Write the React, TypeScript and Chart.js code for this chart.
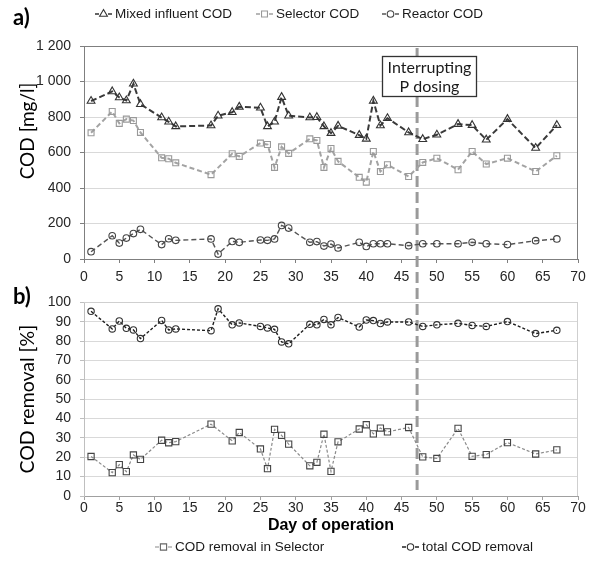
import React, { useEffect, useRef } from "react";
import { Chart, registerables } from "chart.js";
import { drawPoint } from "chart.js/helpers";

Chart.register(...registerables);

// ---------------- data ----------------
const days = [1, 4, 5, 6, 7, 8, 11, 12, 13, 18, 19, 21, 22, 25, 26, 27, 28, 29, 32, 33, 34, 35, 36, 39, 40, 41, 42, 43, 46, 48, 50, 53, 55, 57, 60, 64, 67];
const mixedInfluentCOD = [890, 944, 910, 893, 987, 872, 797, 773, 747, 752, 807, 827, 857, 852, 747, 773, 912, 807, 797, 799, 747, 709, 750, 698, 677, 891, 752, 793, 713, 675, 700, 760, 754, 672, 788, 625, 754];
const selectorCOD = [711, 831, 764, 788, 780, 713, 570, 565, 542, 475, null, 593, 578, 653, 645, 516, 632, 595, 677, 668, 516, 623, 550, 460, 433, 606, 493, 531, 465, 544, 568, 503, 606, 535, 568, 493, 582];
const reactorCOD = [41, 131, 90, 118, 143, 167, 81, 114, 105, 113, 28, 99, 94, 107, 105, 113, 189, 174, 94, 98, 73, 84, 62, 94, 71, 86, 86, 86, 75, 86, 86, 86, 94, 86, 81, 103, 113];
const codRemovalInSelector = [20.4, 12.1, 16.2, 12.6, 21.2, 18.9, 28.8, 27.5, 28.1, 37.1, null, 28.5, 32.8, 24.3, 14.1, 34.4, 31.3, 26.8, 15.6, 17.4, 31.9, 12.7, 28, 34.6, 36.8, 32.1, 35.1, 33.1, 35.4, 20.2, 19.4, 34.9, 20.5, 21.4, 27.6, 21.7, 23.8];
const totalCODRemoval = [95.4, 86.3, 90.4, 86.6, 85.8, 81.3, 90.7, 85.8, 86.3, 85.4, 96.7, 88.4, 89.4, 87.6, 86.8, 86.1, 79.6, 78.6, 88.7, 88.4, 91.2, 88.4, 92.2, 87.3, 90.9, 90.6, 89.1, 89.9, 89.9, 87.6, 88.4, 89.2, 88.1, 87.6, 90.1, 83.9, 85.6];

const dayTicks = [0, 5, 10, 15, 20, 25, 30, 35, 40, 45, 50, 55, 60, 65, 70];
const codTicks = [0, 200, 400, 600, 800, 1000, 1200];
const removalTicks = [0, 10, 20, 30, 40, 50, 60, 70, 80, 90, 100];
const pDosingDay = 47.2;
const pDosingLabel = ["Interrupting", "P dosing"];

// ---------------- styling ----------------
const SANS = "'Liberation Sans', Arial, sans-serif";
const CAL = "Lato, 'Open Sans', sans-serif";
const TICK_FONT = { family: SANS, size: 14 };
const TICK_COLOR = "#262626";

const series = (vals: (number | null)[]) => days.map((d, i) => ({ x: d, y: vals[i] }));

const fmtCod = (v: number) =>
  v >= 1000 ? `${Math.floor(v / 1000)} ${String(v % 1000).padStart(3, "0")}` : String(v);

type LegendItem = {
  text: string;
  style: string;
  radius: number;
  lineColor: string;
  lineWidth: number;
  pointColor: string;
  x: number;
};

function drawLegend(ctx: CanvasRenderingContext2D, items: LegendItem[], y: number) {
  ctx.save();
  ctx.font = `13.5px ${SANS}`;
  ctx.textBaseline = "middle";
  ctx.textAlign = "left";
  for (const it of items) {
    const x0 = it.x;
    ctx.setLineDash([]);
    ctx.strokeStyle = it.lineColor;
    ctx.lineWidth = it.lineWidth;
    ctx.beginPath();
    ctx.moveTo(x0, y);
    ctx.lineTo(x0 + 4, y);
    ctx.moveTo(x0 + 13, y);
    ctx.lineTo(x0 + 17, y);
    ctx.stroke();
    ctx.strokeStyle = it.pointColor;
    ctx.fillStyle = "rgba(255,255,255,1)";
    ctx.lineWidth = 1.1;
    drawPoint(ctx, { pointStyle: it.style as any, radius: it.radius, borderWidth: 1.1, rotation: 0 } as any, x0 + 8.5, y);
    ctx.fillStyle = "#1a1a1a";
    ctx.fillText(it.text, x0 + 20, y);
  }
  ctx.restore();
}

function drawPLine(ctx: CanvasRenderingContext2D, x: number, y0: number, y1: number, offset: number) {
  ctx.save();
  ctx.strokeStyle = "#9a9a9a";
  ctx.lineWidth = 3;
  ctx.setLineDash([11, 5]);
  ctx.lineDashOffset = offset;
  ctx.beginPath();
  ctx.moveTo(x, y0);
  ctx.lineTo(x, y1);
  ctx.stroke();
  ctx.restore();
}

function drawRotatedTitle(ctx: CanvasRenderingContext2D, text: string, x: number, y: number, size: number) {
  ctx.save();
  ctx.translate(x, y);
  ctx.rotate(-Math.PI / 2);
  ctx.font = `${size}px ${CAL}`;
  ctx.fillStyle = "#000";
  ctx.textAlign = "center";
  ctx.textBaseline = "middle";
  ctx.fillText(text, 0, 0);
  ctx.restore();
}

function drawPanelLetter(ctx: CanvasRenderingContext2D, text: string, x: number, y: number) {
  ctx.save();
  ctx.font = `bold 22px ${CAL}`;
  ctx.fillStyle = "#000";
  ctx.textAlign = "left";
  ctx.textBaseline = "middle";
  ctx.fillText(text, x, y);
  ctx.restore();
}

const TOP_CANVAS_H = 285;
const BOTTOM_CANVAS_TOP = 285;
const BOTTOM_CANVAS_H = 276;
const LINE_START_ABS = 48;

const topDecor = {
  id: "topDecor",
  beforeDatasetsDraw(chart: any) {
    const { ctx, chartArea: a, scales } = chart;
    ctx.save();
    ctx.strokeStyle = "#7f7f7f";
    ctx.lineWidth = 1;
    ctx.beginPath();
    ctx.moveTo(a.left, Math.round(a.top) + 0.5);
    ctx.lineTo(a.right, Math.round(a.top) + 0.5);
    ctx.moveTo(Math.round(a.right) - 0.5, a.top);
    ctx.lineTo(Math.round(a.right) - 0.5, a.bottom);
    ctx.stroke();
    ctx.restore();
    const x = scales.x.getPixelForValue(pDosingDay);
    drawPLine(ctx, x, LINE_START_ABS, chart.height, 0);
  },
  afterDatasetsDraw(chart: any) {
    const { ctx, chartArea: a, scales } = chart;
    const x = scales.x.getPixelForValue(pDosingDay);
    const bx = Math.round(x - 35) + 0.5;
    const by = Math.round(a.top + 10) + 0.5;
    const bw = 94;
    const bh = 40;
    ctx.save();
    ctx.fillStyle = "#fff";
    ctx.fillRect(bx, by, bw, bh);
    ctx.strokeStyle = "#333";
    ctx.lineWidth = 1.3;
    ctx.strokeRect(bx, by, bw, bh);
    ctx.font = `16px ${CAL}`;
    ctx.fillStyle = "#1a1a1a";
    ctx.textAlign = "center";
    ctx.textBaseline = "middle";
    ctx.fillText(pDosingLabel[0], bx + bw / 2, by + 11);
    ctx.fillText(pDosingLabel[1], bx + bw / 2, by + 30);
    ctx.restore();
  },
  afterDraw(chart: any) {
    const { ctx, chartArea: a } = chart;
    drawPanelLetter(ctx, "a)", 13, 18);
    drawRotatedTitle(ctx, "COD [mg/l]", 28, a.top + 85, 19);
    drawLegend(ctx, [
      { text: "Mixed influent COD", style: "triangle", radius: 4.5, lineColor: "#333", lineWidth: 1.5, pointColor: "#333", x: 95 },
      { text: "Selector COD", style: "rect", radius: 4.2, lineColor: "#a0a0a0", lineWidth: 1.5, pointColor: "#999", x: 256 },
      { text: "Reactor COD", style: "circle", radius: 3.3, lineColor: "#555", lineWidth: 1.3, pointColor: "#444", x: 382 },
    ], 14);
  },
};

const bottomDecor = {
  id: "bottomDecor",
  beforeDatasetsDraw(chart: any) {
    const { ctx, chartArea: a, scales } = chart;
    ctx.save();
    ctx.strokeStyle = "#cfcfcf";
    ctx.lineWidth = 1;
    ctx.beginPath();
    ctx.moveTo(a.left, Math.round(a.top) + 0.5);
    ctx.lineTo(a.right, Math.round(a.top) + 0.5);
    ctx.moveTo(Math.round(a.right) - 0.5, a.top);
    ctx.lineTo(Math.round(a.right) - 0.5, a.bottom);
    ctx.stroke();
    ctx.restore();
    const x = scales.x.getPixelForValue(pDosingDay);
    const offset = (BOTTOM_CANVAS_TOP - LINE_START_ABS) % 16;
    drawPLine(ctx, x, 0, a.bottom - 6, offset);
  },
  afterDraw(chart: any) {
    const { ctx, chartArea: a } = chart;
    drawPanelLetter(ctx, "b)", 13, 12);
    drawRotatedTitle(ctx, "COD removal [%]", 28, (a.top + a.bottom) / 2, 19.5);
    drawLegend(ctx, [
      { text: "COD removal in Selector", style: "rect", radius: 4.4, lineColor: "#888", lineWidth: 1.2, pointColor: "#666", x: 155 },
      { text: "total COD removal", style: "circle", radius: 3.2, lineColor: "#222", lineWidth: 1.3, pointColor: "#333", x: 402 },
    ], 262);
  },
};

function makeXScale(bottom: boolean) {
  return {
    type: "linear" as const,
    min: 0,
    max: 70,
    afterBuildTicks: (s: any) => {
      s.ticks = dayTicks.map((v) => ({ value: v }));
    },
    afterFit: (s: any) => {
      s.height = bottom ? 40 : 26;
    },
    grid: {
      drawOnChartArea: false,
      drawTicks: true,
      tickLength: 4,
      tickColor: bottom ? "#a0a0a0" : "#7f7f7f",
    },
    border: { display: true, color: bottom ? "#a0a0a0" : "#7f7f7f", width: 1 },
    ticks: { font: TICK_FONT, color: TICK_COLOR, padding: bottom ? 0 : 6, maxRotation: 0, autoSkip: false },
    title: bottom
      ? {
          display: true,
          text: "Day of operation",
          font: { family: SANS, size: 16, weight: "bold" as const },
          color: "#000",
          padding: { top: 0, bottom: 1 },
        }
      : { display: false },
  };
}

function makeYScale(tickVals: number[], min: number, max: number, bottom: boolean) {
  return {
    type: "linear" as const,
    min,
    max,
    afterBuildTicks: (s: any) => {
      s.ticks = tickVals.map((v) => ({ value: v }));
    },
    afterFit: (s: any) => {
      s.width = 84;
    },
    grid: {
      color: "#d9d9d9",
      lineWidth: 1,
      drawTicks: true,
      tickLength: 4,
      tickColor: bottom ? "#bfbfbf" : "#7f7f7f",
    },
    border: { display: true, color: bottom ? "#bfbfbf" : "#7f7f7f", width: 1 },
    ticks: {
      font: TICK_FONT,
      color: TICK_COLOR,
      padding: 9,
      autoSkip: false,
      callback: (v: any) => (bottom ? String(v) : fmtCod(Number(v))),
    },
  };
}

export default function App() {
  const topRef = useRef<HTMLCanvasElement>(null);
  const botRef = useRef<HTMLCanvasElement>(null);

  useEffect(() => {
    Chart.defaults.font.family = SANS;
    const top = new Chart(topRef.current!, {
      type: "line",
      data: {
        datasets: [
          {
            label: "Mixed influent COD",
            data: series(mixedInfluentCOD),
            borderColor: "#3a3a3a",
            borderWidth: 2,
            borderDash: [6, 3],
            pointStyle: "triangle",
            pointRadius: 4.5,
            pointBorderWidth: 1.1,
            pointBorderColor: "#333",
            pointBackgroundColor: "rgba(0,0,0,0)",
            tension: 0,
            spanGaps: true,
          },
          {
            label: "Selector COD",
            data: series(selectorCOD),
            borderColor: "#a3a3a3",
            borderWidth: 2,
            borderDash: [5, 3],
            pointStyle: "rect",
            pointRadius: 4.2,
            pointBorderWidth: 1.1,
            pointBorderColor: "#999",
            pointBackgroundColor: "rgba(0,0,0,0)",
            tension: 0,
            spanGaps: true,
          },
          {
            label: "Reactor COD",
            data: series(reactorCOD),
            borderColor: "#555",
            borderWidth: 1.4,
            borderDash: [5, 3],
            pointStyle: "circle",
            pointRadius: 3.3,
            pointBorderWidth: 1.1,
            pointBorderColor: "#444",
            pointBackgroundColor: "rgba(0,0,0,0)",
            tension: 0,
            spanGaps: true,
          },
        ],
      },
      options: {
        responsive: false,
        animation: false,
        devicePixelRatio: 1,
        layout: { padding: { top: 46, left: 0, right: 18, bottom: 0 } },
        plugins: { legend: { display: false }, tooltip: { enabled: false } },
        scales: {
          x: makeXScale(false) as any,
          y: makeYScale(codTicks, 0, 1200, false) as any,
        },
      },
      plugins: [topDecor],
    });

    const bot = new Chart(botRef.current!, {
      type: "line",
      data: {
        datasets: [
          {
            label: "COD removal in Selector",
            data: series(codRemovalInSelector),
            borderColor: "#8a8a8a",
            borderWidth: 1.2,
            borderDash: [3, 2],
            pointStyle: "rect",
            pointRadius: 4.4,
            pointBorderWidth: 1.1,
            pointBorderColor: "#444",
            pointBackgroundColor: "rgba(0,0,0,0)",
            tension: 0,
            spanGaps: true,
          },
          {
            label: "total COD removal",
            data: series(totalCODRemoval),
            borderColor: "#1e1e1e",
            borderWidth: 1.4,
            borderDash: [3, 2],
            pointStyle: "circle",
            pointRadius: 3.2,
            pointBorderWidth: 1.1,
            pointBorderColor: "#333",
            pointBackgroundColor: "rgba(0,0,0,0)",
            tension: 0,
            spanGaps: true,
          },
        ],
      },
      options: {
        responsive: false,
        animation: false,
        devicePixelRatio: 1,
        layout: { padding: { top: 10, left: 0, right: 18, bottom: 25 } },
        plugins: { legend: { display: false }, tooltip: { enabled: false } },
        scales: {
          x: makeXScale(true) as any,
          y: makeYScale(removalTicks, 0, 100, true) as any,
        },
      },
      plugins: [bottomDecor],
    });

    return () => {
      top.destroy();
      bot.destroy();
    };
  }, []);

  return (
    <div style={{ position: "absolute", left: 0, top: 0, width: 596, height: 561, background: "#fff" }}>
      <canvas
        ref={topRef}
        width={596}
        height={TOP_CANVAS_H}
        style={{ position: "absolute", left: 0, top: 0, display: "block" }}
      />
      <canvas
        ref={botRef}
        width={596}
        height={BOTTOM_CANVAS_H}
        style={{ position: "absolute", left: 0, top: BOTTOM_CANVAS_TOP, display: "block" }}
      />
    </div>
  );
}
